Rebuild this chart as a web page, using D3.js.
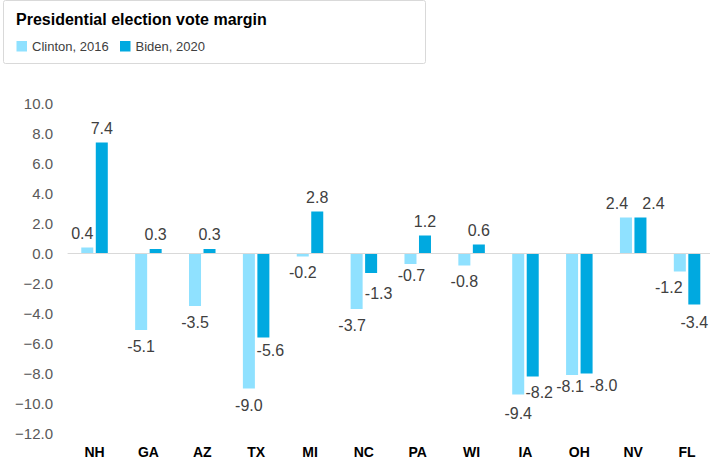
<!DOCTYPE html>
<html>
<head>
<meta charset="utf-8">
<script src="https://cdn.jsdelivr.net/npm/d3@7"></script>
<style>
  body { margin: 0; background: #fff; }
  svg { display: block; font-family: "Liberation Sans", Arial, sans-serif; }
</style>
</head>
<body>
<svg id="chart" width="710" height="466"></svg>
<script>
// ── Data ────────────────────────────────────────────────────
const states = ["NH", "GA", "AZ", "TX", "MI", "NC", "PA", "WI", "IA", "OH", "NV", "FL"];
const clinton2016 = [0.4, -5.1, -3.5, -9.0, -0.2, -3.7, -0.7, -0.8, -9.4, -8.1, 2.4, -1.2];
const biden2020   = [7.4, 0.3, 0.3, -5.6, 2.8, -1.3, 1.2, 0.6, -8.2, -8.0, 2.4, -3.4];
const seriesNames = ["Clinton, 2016", "Biden, 2020"];
const yTicks = [10, 8, 6, 4, 2, 0, -2, -4, -6, -8, -10, -12];

const COLORS = ["#8fe1ff", "#00a9e0"];

// label nudges (dx, dy) where the labels were shifted to avoid overlap
const labelNudge = {
  "NH|0": [-5, 0], "TX|0": [0, 1], "TX|1": [7, -3.5],
  "NC|0": [-4.5, 0], "NC|1": [7.5, 4.5], "PA|0": [1, -5],
  "IA|0": [0, 2.5], "IA|1": [6.5, -0.5], "OH|0": [-2, -4.3], "OH|1": [17, -4.5],
  "NV|0": [-9, 0], "NV|1": [13, 0], "FL|0": [-11, 0], "FL|1": [0, 1.5]
};

const svg = d3.select("#chart");

// ── Title / legend box ──────────────────────────────────────
svg.append("rect")
  .attr("x", 3.5).attr("y", 0.5).attr("width", 422).attr("height", 63)
  .attr("rx", 2)
  .attr("fill", "#fff").attr("stroke", "#d9d9d9");

svg.append("text")
  .attr("x", 16).attr("y", 25)
  .attr("font-size", 16).attr("font-weight", "bold").attr("fill", "#000")
  .text("Presidential election vote margin");

const legendX = [16.5, 120];
seriesNames.forEach((name, i) => {
  const lg = svg.append("g").attr("transform", `translate(${legendX[i]},41)`);
  lg.append("rect").attr("width", 10.5).attr("height", 10.5).attr("fill", COLORS[i]);
  lg.append("text")
    .attr("x", 15.5).attr("y", 9.5)
    .attr("font-size", 13).attr("fill", "#404040")
    .text(name);
});

// ── Scales ──────────────────────────────────────────────────
const x0 = d3.scaleBand().domain(states).range([67.6, 714])
  .paddingInner(0.508).paddingOuter(0.254);
const x1 = d3.scaleBand().domain([0, 1]).range([0, x0.bandwidth()]).paddingInner(0.172);
const y = d3.scaleLinear().domain([-12, 10]).range([433.5, 103.5]);

// ── Y axis ─────────────────────────────────────────────────
svg.append("g")
  .attr("transform", "translate(53,0)")
  .call(d3.axisLeft(y).tickValues(yTicks).tickSize(0).tickPadding(0).tickFormat(d3.format(".1f")))
  .call(ax => ax.select(".domain").remove())
  .selectAll("text")
    .attr("font-size", 15).attr("fill", "#595959")
    .attr("font-family", "Liberation Sans, Arial, sans-serif");

// ── X category labels ───────────────────────────────────────
svg.append("g")
  .attr("transform", "translate(0,447)")
  .call(d3.axisBottom(x0).tickSize(0).tickPadding(0))
  .call(ax => ax.select(".domain").remove())
  .selectAll("text")
    .attr("font-size", 14).attr("font-weight", "bold").attr("fill", "#000")
    .attr("font-family", "Liberation Sans, Arial, sans-serif");

// ── Bars ───────────────────────────────────────────────────
const rows = [];
states.forEach((s, i) => {
  [clinton2016[i], biden2020[i]].forEach((v, k) => rows.push({ state: s, k, v }));
});

svg.append("g").selectAll("rect")
  .data(rows)
  .join("rect")
    .attr("x", d => x0(d.state) + x1(d.k))
    .attr("y", d => y(Math.max(0, d.v)))
    .attr("width", x1.bandwidth())
    .attr("height", d => Math.abs(y(d.v) - y(0)))
    .attr("fill", d => COLORS[d.k]);

// zero line
svg.append("line")
  .attr("x1", 67.6).attr("x2", 714)
  .attr("y1", y(0)).attr("y2", y(0))
  .attr("stroke", "#d9d9d9").attr("stroke-width", 1.2);

// ── Value labels ───────────────────────────────────────────
svg.append("g").selectAll("text")
  .data(rows)
  .join("text")
    .attr("x", d => x0(d.state) + x1(d.k) + x1.bandwidth() / 2 + (labelNudge[d.state + "|" + d.k] || [0, 0])[0])
    .attr("y", d => (d.v >= 0 ? y(d.v) - 14.5 : y(d.v) + 16) + (labelNudge[d.state + "|" + d.k] || [0, 0])[1])
    .attr("dy", "0.35em")
    .attr("text-anchor", "middle")
    .attr("font-size", 16).attr("fill", "#404040")
    .text(d => d.v.toFixed(1));
</script>
</body>
</html>
